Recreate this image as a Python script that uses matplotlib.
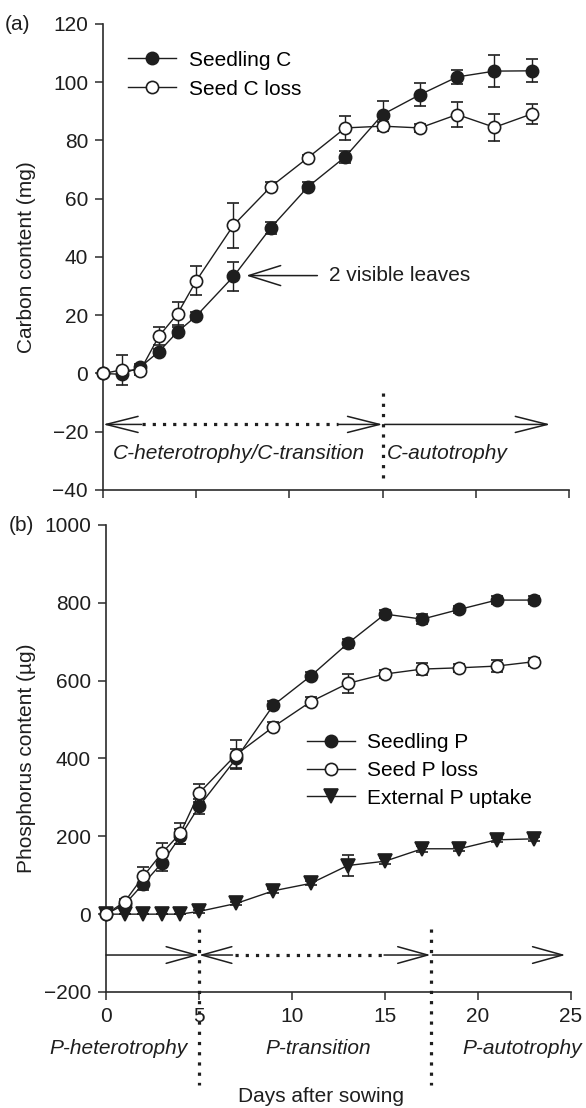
import matplotlib
matplotlib.use("Agg")
import matplotlib.pyplot as plt

plt.rcParams["font.family"] = ["Liberation Sans", "DejaVu Sans"]

# sampling days (days after sowing)
days = [0, 1, 2, 3, 4, 5, 7, 9, 11, 13, 15, 17, 19, 21, 23]

# panel (a): carbon content (mg)
seedling_c = [0, -0.3, 2.2, 7.5, 14.3, 19.7, 33.3, 50.0, 64.1, 74.4, 88.9, 95.7, 101.8, 103.8, 103.9]
seedling_c_err = [0, 0, 1, 1, 1.5, 1.5, 5, 2, 1.5, 2, 4.8, 4, 2.5, 5.5, 4]
seed_c_loss = [0, 1.2, 1.0, 12.8, 20.5, 31.8, 50.9, 64.1, 74.1, 84.3, 84.9, 84.3, 88.9, 84.5, 89.1]
seed_c_loss_err = [0, 5.3, 1.5, 3, 4, 5, 7.7, 1.5, 1, 4, 1.5, 1.5, 4.3, 4.6, 3.5]

# panel (b): phosphorus content (ug)
seedling_p = [0, 25, 77.6, 131, 200, 277, 400, 537, 611.7, 695.7, 771, 758, 783, 807, 807]
seedling_p_err = [0, 8, 15, 20, 20, 20, 25, 10, 10, 12, 10, 12, 10, 10, 10]
seed_p_loss = [0, 31.6, 96.9, 156.8, 208, 311, 410, 481.4, 545.7, 592.9, 617, 629.7, 633, 637.4, 648.6]
seed_p_loss_err = [0, 8, 25, 25, 27, 24, 38, 12, 12, 24, 10, 15, 10, 15, 10]
ext_p = [0, 0, 0, 0, 0, 7, 27.5, 60, 79, 125, 136, 168, 168, 191, 193.5]
ext_p_err = [0, 0, 0, 0, 0, 3, 5, 5, 5, 28, 8, 8, 5, 5, 5]

ink = "#1e1e1e"
fs = 15
dotted = (0, (1, 2.2))

fig = plt.figure(figsize=(5.86, 11.08), dpi=100)
ax_a = fig.add_axes([0.1758, 0.5578, 0.7952, 0.4206])
ax_b = fig.add_axes([0.1809, 0.1047, 0.7935, 0.4215])


def style_axes(ax):
    for side in ["top", "right"]:
        ax.spines[side].set_visible(False)
    for side in ["left", "bottom"]:
        ax.spines[side].set_color("#2b2b2b")
        ax.spines[side].set_linewidth(1.2)
    ax.tick_params(direction="out", length=5.8, width=1.1, color="#2b2b2b",
                   labelsize=fs, pad=5, labelcolor=ink)
    ax.set_xlim(0, 25)
    ax.set_xticks(range(0, 26, 5))


def series(ax, y, err, marker, face, label, ms=8.8):
    cont = ax.errorbar(days, y, yerr=err, color=ink, lw=1.0, elinewidth=1.0, capsize=4,
                       capthick=1.0, marker=marker, ms=ms, mfc=face, mec=ink, mew=1.2,
                       label=label, clip_on=False, zorder=3)
    return cont[0]


def arrow(ax, tail, tip, y, hl, hw):
    ax.annotate("", xy=(tip, y), xytext=(tail, y),
                arrowprops=dict(arrowstyle=f"->,head_length={hl},head_width={hw}",
                                mutation_scale=1, lw=1.1, color=ink,
                                shrinkA=0, shrinkB=0),
                annotation_clip=False)


# ---- panel (a)
style_axes(ax_a)
ax_a.set_ylim(-40, 120)
ax_a.set_yticks(range(-40, 121, 20))
ax_a.set_xticklabels([])
h1 = series(ax_a, seedling_c, seedling_c_err, "o", ink, "Seedling C")
h2 = series(ax_a, seed_c_loss, seed_c_loss_err, "o", "white", "Seed C loss")

ax_a.legend([h1, h2], ["Seedling C", "Seed C loss"],
            loc="upper left", bbox_to_anchor=(0.219, 0.9544), bbox_transform=fig.transFigure,
            frameon=False, fontsize=fs, handlelength=2.3, handletextpad=0.6,
            labelspacing=0.49, borderpad=0, borderaxespad=0)

ya = -17.5
arrow(ax_a, 2.07, 0, ya, 23, 5.8)
ax_a.plot([2.07, 12.6], [ya, ya], ls=dotted, lw=2.3, color=ink)
arrow(ax_a, 12.6, 15, ya, 23, 5.8)
arrow(ax_a, 15.1, 24.0, ya, 23, 5.8)
ax_a.plot([15, 15], [-6.8, -36], ls=dotted, lw=2.3, color=ink)
ax_a.text(7.3, -27.4, "C-heterotrophy/C-transition", style="italic", fontsize=fs,
          ha="center", va="center", color=ink)
ax_a.text(15.25, -27.4, "C-autotrophy", style="italic", fontsize=fs,
          ha="left", va="center", color=ink)

ax_a.annotate("", xy=(7.68, 33.6), xytext=(11.5, 33.6),
              arrowprops=dict(arrowstyle="->,head_length=23,head_width=7.2",
                              mutation_scale=1, lw=1.1, color=ink, shrinkA=0, shrinkB=0))
ax_a.text(12.1, 33.6, "2 visible leaves", fontsize=fs, ha="left", va="center", color=ink)

# ---- panel (b)
style_axes(ax_b)
ax_b.set_ylim(-200, 1000)
ax_b.set_yticks(range(-200, 1001, 200))
h5 = series(ax_b, ext_p, ext_p_err, "v", ink, "External P uptake", ms=9.4)
h3 = series(ax_b, seedling_p, seedling_p_err, "o", ink, "Seedling P")
h4 = series(ax_b, seed_p_loss, seed_p_loss_err, "o", "white", "Seed P loss")

ax_b.legend([h3, h4, h5], ["Seedling P", "Seed P loss", "External P uptake"],
            loc="upper left", bbox_to_anchor=(0.524, 0.3383), bbox_transform=fig.transFigure,
            frameon=False, fontsize=fs, handlelength=2.3, handletextpad=0.6,
            labelspacing=0.42, borderpad=0, borderaxespad=0)

yb = -105
arrow(ax_b, 0, 5, yb, 21.6, 6)
arrow(ax_b, 6.8, 5, yb, 21.6, 6)
ax_b.plot([6.95, 14.95], [yb, yb], ls=dotted, lw=2.3, color=ink)
arrow(ax_b, 14.95, 17.45, yb, 21.6, 6)
arrow(ax_b, 17.55, 24.7, yb, 21.6, 6)
for xv in [5, 17.45]:
    ax_b.plot([xv, xv], [-37, -440], ls=dotted, lw=2.3, color=ink, clip_on=False, zorder=4)

for xv, name in [(0.67, "P-heterotrophy"), (11.4, "P-transition"), (22.4, "P-autotrophy")]:
    ax_b.text(xv, -345, name, style="italic", fontsize=fs, ha="center", va="center",
              color=ink, clip_on=False)
ax_b.text(11.55, -468, "Days after sowing", fontsize=fs, ha="center", va="center",
          color=ink, clip_on=False)

# axis titles and panel letters
fig.text(27 / 586, 1 - 257 / 1108, "Carbon content (mg)", rotation=90, fontsize=fs,
         ha="center", va="center", color=ink)
fig.text(27 / 586, 1 - 758 / 1108, "Phosphorus content (\u00b5g)", rotation=90, fontsize=fs,
         ha="center", va="center", color=ink)
fig.text(18 / 586, 1 - 24 / 1108, "(a)", fontsize=fs, ha="center", va="center", color=ink)
fig.text(21 / 586, 1 - 525 / 1108, "(b)", fontsize=fs, ha="center", va="center", color=ink)

fig.savefig("out.png", dpi=100)
